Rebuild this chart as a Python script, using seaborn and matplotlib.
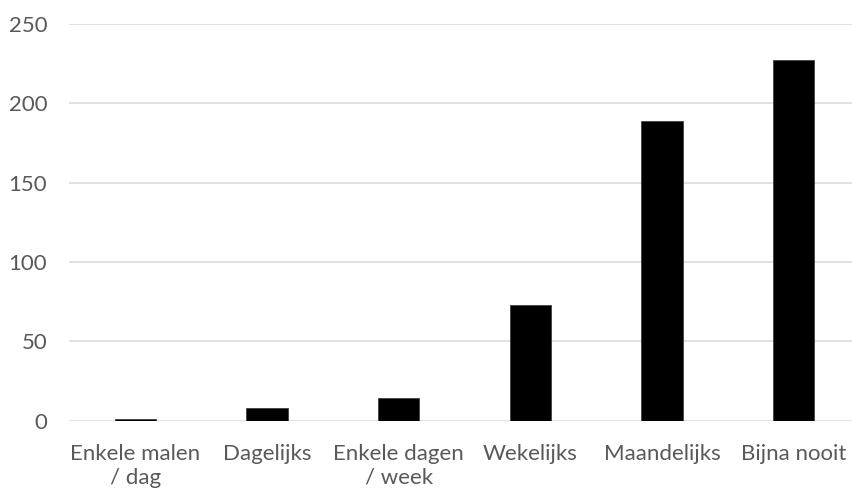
import matplotlib
matplotlib.use("Agg")
import matplotlib.pyplot as plt
import seaborn as sns
import pandas as pd

categories = ["Enkele malen\n/ dag", "Dagelijks", "Enkele dagen\n/ week",
              "Wekelijks", "Maandelijks", "Bijna nooit"]
values = [1, 8, 14, 73, 189, 227]
yticks = [0, 50, 100, 150, 200, 250]

sns.set_theme(style="white")
plt.rcParams['font.family'] = ['Lato', 'DejaVu Sans']

df = pd.DataFrame({"cat": categories, "val": values})

fig = plt.figure(figsize=(8.53, 4.91), dpi=100)
ax = fig.add_axes([69.5 / 853, 1 - 420.7 / 491, 1 - 69.5 / 853, (420.7 - 24) / 491])

sns.barplot(data=df, x="cat", y="val", color="black", width=0.315,
            edgecolor="#404040", linewidth=0.6, saturation=1, ax=ax, zorder=3)

ax.set_ylim(0, 250)
ax.set_xlim(-0.5, 5.45)
ax.set_yticks(yticks)
ax.yaxis.grid(True, color="#d9d9d9", linewidth=1.1, zorder=0)
ax.set_axisbelow(True)
for s in ax.spines.values():
    s.set_visible(False)
ax.set_xlabel("")
ax.set_ylabel("")
ax.tick_params(axis="both", length=0, labelsize=16, colors="#595959")
ax.tick_params(axis="y", pad=16)
ax.tick_params(axis="x", pad=17)
for lbl in ax.get_xticklabels():
    lbl.set_linespacing(1.2)

fig.savefig("out.png", dpi=100)
